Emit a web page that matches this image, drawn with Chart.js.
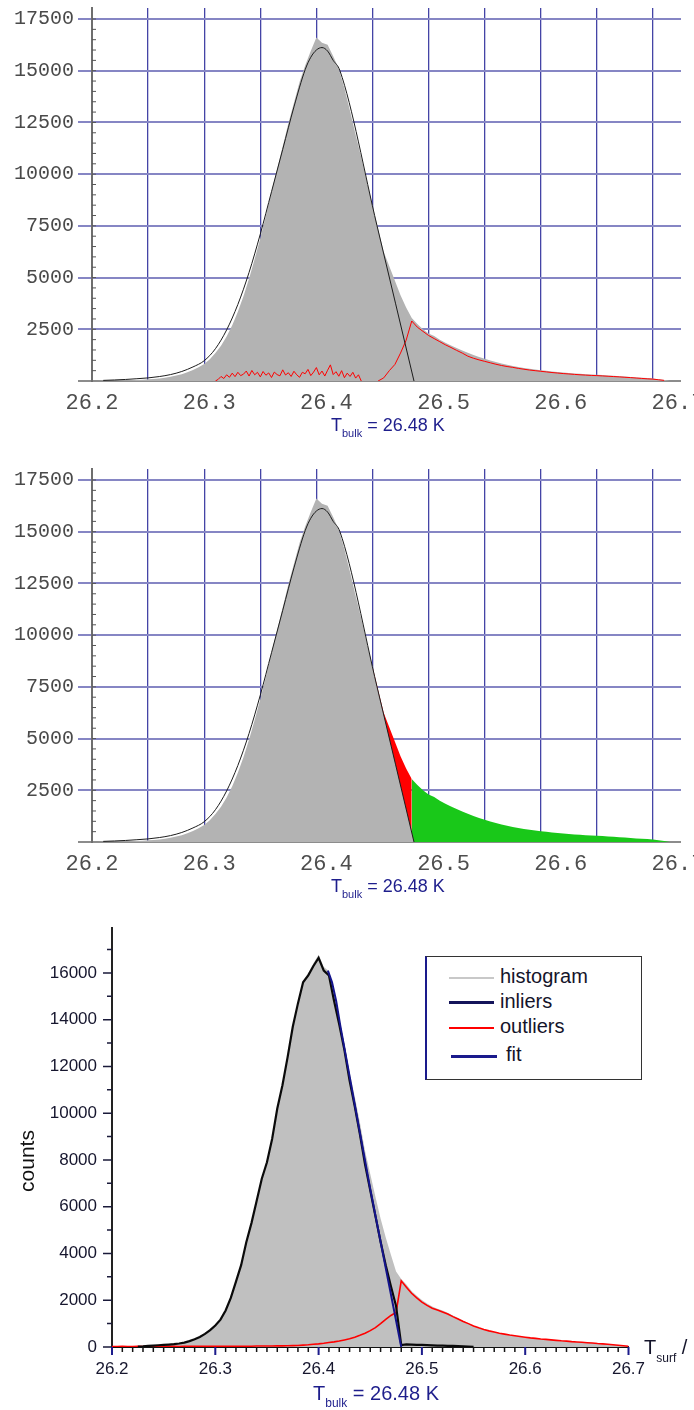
<!DOCTYPE html>
<html>
<head>
<meta charset="utf-8">
<script src="https://cdn.jsdelivr.net/npm/chart.js@4.4.1/dist/chart.umd.min.js"></script>
<style>
  html, body { margin: 0; padding: 0; background: #ffffff; }
  body { width: 694px; height: 1410px; position: relative; overflow: hidden;
         font-family: 'Liberation Sans', Arial, sans-serif; }
  canvas { position: absolute; left: 0; }
  .lbl { position: absolute; white-space: nowrap; }
  .tb { color: #1e1e8c; }
  .sub { position: relative; }
  .legend { position: absolute; left: 425px; top: 956px; width: 217px; height: 124px;
            box-sizing: border-box; border: 1px solid #333333; border-left: 2px solid #1a1a8c; background: #ffffff; }
  .key { position: absolute; height: 0; }
  .ltxt { position: absolute; font-size: 20px; line-height: 20px; color: #14142a; white-space: nowrap; }
</style>
</head>
<body>
<canvas id="histTop" width="694" height="450" style="top:0px"></canvas>
<canvas id="histMid" width="694" height="450" style="top:461px"></canvas>
<canvas id="histLow" width="694" height="510" style="top:900px"></canvas>

<div class="lbl tb" style="left:331px;top:416px;font-size:18px;line-height:18px">T<span class="sub" style="font-size:11px;top:6px">bulk</span> = 26.48 K</div>
<div class="lbl tb" style="left:331px;top:877px;font-size:18px;line-height:18px">T<span class="sub" style="font-size:11px;top:6px">bulk</span> = 26.48 K</div>
<div class="lbl tb" style="left:313px;top:1383px;font-size:20px;line-height:20px">T<span class="sub" style="font-size:12px;top:7px">bulk</span> = 26.48 K</div>

<div class="lbl" style="left:644px;top:1337px;font-size:20px;line-height:20px;color:#14142a">T<span class="sub" style="font-size:12px;top:8px">surf</span> / K</div>
<div class="lbl" style="left:-10px;top:1150px;width:74px;text-align:center;font-size:21px;line-height:22px;color:#111111;transform:rotate(-90deg);transform-origin:37px 11px">counts</div>

<div class="legend"></div>
<div class="key" style="left:449px;top:977px;width:45px;border-top:2px solid #c8c8c8"></div>
<div class="key" style="left:449px;top:1001px;width:45px;border-top:3px solid #14145a"></div>
<div class="key" style="left:449px;top:1027px;width:45px;border-top:2px solid #ff0000"></div>
<div class="key" style="left:451px;top:1055px;width:46px;border-top:3px solid #1a1a8c"></div>
<div class="ltxt" style="left:500px;top:966px">histogram</div>
<div class="ltxt" style="left:500px;top:991px">inliers</div>
<div class="ltxt" style="left:500px;top:1016px">outliers</div>
<div class="ltxt" style="left:506px;top:1044px">fit</div>

<script>
// Histogram bins: centres every 5 mK starting at 26.200 K
const binStart = 26.2;
const binWidth = 0.005;

// Upper panels: total counts per bin (26.200 ... 26.720 K)
const upperHist = [
  0, 5, 8, 12, 16, 22, 30, 40, 50, 65,
  80, 100, 125, 160, 200, 260, 330, 420, 530, 660,
  820, 1050, 1350, 1700, 2150, 2700, 3350, 4100, 4950, 5900,
  6900, 8000, 9150, 10250, 11350, 12450, 13450, 14450, 15250, 15950,
  16600, 16350, 16250, 15700, 15100, 14150, 13050, 11900, 10800, 9650,
  8500, 7350, 6250, 5550, 4850, 4150, 3550, 3050, 2750, 2500,
  2300, 2180, 2000, 1850, 1720, 1600, 1480, 1370, 1260, 1160,
  1080, 990, 920, 850, 790, 730, 680, 630, 590, 550,
  520, 490, 460, 430, 405, 385, 365, 345, 330, 310,
  300, 285, 270, 255, 235, 215, 195, 175, 160, 140,
  120, 90, 50, 0, 0
];

// Upper panel: outliers on the warm side, per bin (null where nothing is flagged)
const upperOutliers = [
  null, null, null, null, null, null, null, null, null, null,
  null, null, null, null, null, null, null, null, null, null,
  null, null, null, null, null, null, null, null, null, null,
  null, null, null, null, null, null, null, null, null, null,
  null, null, null, null, null, null, null, null, null, null,
  null, 0, 150, 500, 800, 1350, 1970, 2900, 2600, 2400,
  2200, 2050, 1900, 1750, 1620, 1480, 1350, 1200, 1100, 1020,
  950, 880, 810, 750, 700, 660, 610, 570, 530, 500,
  470, 440, 410, 385, 360, 340, 320, 300, 285, 270,
  260, 245, 230, 215, 200, 180, 165, 145, 125, 105,
  90, 60, 30, null, null
];

// Upper panel: scattered outliers under the peak, finer bins of 2.5 mK from 26.310 K
const coldStart = 26.31;
const coldStep = 0.0025;
const upperOutliersCold = [
  0, 80, 220, 120, 300, 180, 380, 210, 420, 260,
  330, 480, 240, 510, 300, 420, 200, 460, 280, 390,
  170, 430, 310, 250, 540, 290, 400, 220, 470, 300,
  180, 420, 350, 560, 260, 430, 650, 300, 480, 240,
  520, 780, 310, 450, 230, 500, 160, 380, 220, 420,
  140, 300, 0
];

// Upper panels: fitted bulk peak (temperature in K, counts)
const upperFitTemps = [
  26.21, 26.22, 26.23, 26.24, 26.25, 26.26, 26.27, 26.28, 26.29, 26.30,
  26.31, 26.32, 26.33, 26.34, 26.35, 26.36, 26.37, 26.38, 26.39, 26.395,
  26.40, 26.405, 26.41, 26.415, 26.421, 26.454, 26.487
];
const upperFitCounts = [
  30, 50, 75, 110, 150, 215, 310, 460, 680, 980,
  1560, 2470, 3700, 5250, 7100, 9150, 11200, 13250, 15050, 15650,
  16000, 16120, 15950, 15500, 15000, 7520, 0
];
// Where the histogram leaves the fitted peak on its warm side
const fitSplitTemp = 26.45;
const bulkTemp = 26.485;

// Lower panel: inlier and outlier counts per bin (26.200 ... 26.700 K)
const lowerInliers = [
  null, null, null, null, null, 20, 30, 45, 60, 75,
  90, 105, 120, 150, 190, 250, 330, 430, 560, 720,
  920, 1170, 1560, 2100, 2800, 3500, 4480, 5300, 6250, 7200,
  7900, 8900, 10200, 11200, 12400, 13700, 14700, 15600, 15900, 16300,
  16650, 16100, 15900, 14800, 13800, 12700, 11400, 10300, 9100, 7800,
  6700, 5600, 4500, 3500, 2600, 1750, 80, 110, 100, 90,
  90, 80, 70, 60, 60, 50, 50, 40, 30, 20,
  10, null, null, null, null, null, null, null, null, null,
  null, null, null, null, null, null, null, null, null, null,
  null, null, null, null, null, null, null, null, null, null,
  null
];
const lowerOutliers = [
  20, 20, 25, 20, 20, 25, 20, 25, 20, 25,
  20, 25, 25, 20, 25, 30, 25, 25, 30, 30,
  25, 30, 30, 35, 30, 35, 35, 35, 40, 40,
  45, 45, 50, 50, 55, 60, 65, 80, 95, 115,
  135, 160, 190, 220, 255, 300, 350, 420, 500, 590,
  700, 830, 1000, 1180, 1350, 1480, 2830, 2560, 2300, 2100,
  1920, 1780, 1660, 1580, 1500, 1410, 1300, 1200, 1090, 1000,
  900, 820, 750, 690, 640, 590, 550, 510, 480, 450,
  420, 390, 370, 345, 325, 305, 285, 265, 250, 230,
  215, 200, 185, 170, 150, 135, 115, 95, 75, 55,
  35
];
// Lower panel: fitted warm flank
const lowerFitTemps = [26.409, 26.413, 26.417, 26.421, 26.45, 26.48];
const lowerFitCounts = [16100, 15600, 14800, 13750, 6760, 0];

// Axis ticks
const upperYTicks = [0, 2500, 5000, 7500, 10000, 12500, 15000, 17500];
const upperXLabels = [26.2, 26.3, 26.4, 26.5, 26.6, 26.7];
const upperXGrid = [26.25, 26.3, 26.35, 26.4, 26.45, 26.5, 26.55, 26.6, 26.65, 26.7];
const lowerYTicks = [0, 2000, 4000, 6000, 8000, 10000, 12000, 14000, 16000];
const lowerXTicks = [26.2, 26.3, 26.4, 26.5, 26.6, 26.7];

const MONO = "'Liberation Mono', 'Courier New', monospace";
const SANS = "'Liberation Sans', Arial, sans-serif";

const round4 = v => Math.round(v * 10000) / 10000;
const binT = i => round4(binStart + i * binWidth);
const toPoints = arr => arr.map((c, i) => ({ x: binT(i), y: c }));
const toFinePoints = arr => arr.map((c, i) => ({ x: round4(coldStart + i * coldStep), y: c }));
const pairPoints = (ts, cs) => ts.map((t, i) => ({ x: t, y: cs[i] }));

function stepValues(from, to, step, skip) {
  const out = [];
  for (let v = from; v <= to + 1e-9; v += step) {
    const r = Math.round(v * 1000) / 1000;
    if (!skip || !skip.some(s => Math.abs(s - r) < 1e-6)) out.push(r);
  }
  return out;
}

// Short tick marks drawn along an axis through the scale's own pixel mapping
const tickMarks = {
  id: 'tickMarks',
  afterDraw(chart, args, opts) {
    const ctx = chart.ctx, area = chart.chartArea;
    (opts.marks || []).forEach(m => {
      const scale = chart.scales[m.axis];
      ctx.save();
      ctx.strokeStyle = m.color;
      ctx.lineWidth = m.width;
      ctx.beginPath();
      m.values.forEach(v => {
        const p = scale.getPixelForValue(v);
        if (scale.isHorizontal()) {
          ctx.moveTo(p, area.bottom);
          ctx.lineTo(p, area.bottom + m.len);
        } else {
          ctx.moveTo(area.left, p);
          ctx.lineTo(area.left + m.len, p);
        }
      });
      ctx.stroke();
      ctx.restore();
    });
  }
};

Chart.defaults.font.family = SANS;

function upperChart(id, datasets) {
  return new Chart(document.getElementById(id), {
    type: 'line',
    data: { datasets },
    options: {
      responsive: false,
      animation: false,
      devicePixelRatio: 1,
      layout: { padding: { top: 8, right: 13, left: 0, bottom: 0 } },
      elements: { point: { radius: 0 }, line: { tension: 0 } },
      plugins: {
        legend: { display: false },
        tooltip: { enabled: false },
        tickMarks: { marks: [
          { axis: 'y', values: stepValues(500, 17500, 500), len: 4, color: '#555555', width: 1 }
        ] }
      },
      scales: {
        x: {
          type: 'linear', position: 'bottom', min: 26.2, max: 26.725,
          afterBuildTicks: s => { s.ticks = upperXGrid.map(v => ({ value: v })); },
          afterFit: s => { s.height = 0; s.paddingLeft = 0; s.paddingRight = 0; },
          grid: { color: '#4444a6', lineWidth: 1.3, drawTicks: false },
          border: { display: false },
          ticks: { display: false }
        },
        xl: {
          type: 'linear', position: 'bottom', min: 26.2, max: 26.7026,
          afterBuildTicks: s => { s.ticks = upperXLabels.map(v => ({ value: v })); },
          afterFit: s => { s.height = 69; s.paddingLeft = 0; s.paddingRight = 0; },
          grid: { display: false, drawTicks: false },
          border: { display: false },
          ticks: { autoSkip: false, maxRotation: 0, padding: 9, color: '#4e4e4e',
                   font: { family: MONO, size: 22 }, callback: v => v.toFixed(1) }
        },
        y: {
          type: 'linear', min: 0, max: 18032,
          afterBuildTicks: s => { s.ticks = upperYTicks.map(v => ({ value: v })); },
          afterFit: s => { s.width = 92; s.paddingTop = 0; s.paddingBottom = 0; },
          grid: {
            color: c => (c.tick && c.tick.value === 0) ? '#8c8c8c' : '#8686c4',
            lineWidth: 2, tickLength: 14, drawTicks: true
          },
          border: { display: true, color: '#6e6e6e', width: 2 },
          ticks: { autoSkip: false, padding: 4, color: '#4a4a4a',
                   font: { family: MONO, size: 20 }, callback: v => (v === 0 ? '' : String(v)) }
        }
      }
    },
    plugins: [tickMarks]
  });
}

const fitStyle = { borderColor: '#1c1c1c', borderWidth: 1, fill: false,
                   cubicInterpolationMode: 'monotone', order: 1 };

// Top: histogram, outliers and the fitted peak
upperChart('histTop', [
  { data: toPoints(upperHist), borderWidth: 0, borderColor: 'rgba(0,0,0,0)',
    backgroundColor: '#b3b3b3', fill: 'origin', order: 4 },
  { data: toFinePoints(upperOutliersCold), borderColor: '#ff0000', borderWidth: 1, fill: false, order: 3 },
  { data: toPoints(upperOutliers), borderColor: '#ff0000', borderWidth: 1, fill: false, order: 2 },
  Object.assign({ data: pairPoints(upperFitTemps, upperFitCounts) }, fitStyle)
]);

// Middle: counts under the fit (grey), excess on the flank (red), beyond T_bulk (green)
const histPts = toPoints(upperHist);
const fitPts = pairPoints(upperFitTemps, upperFitCounts);
const underFit = histPts.filter(p => p.x <= fitSplitTemp + 1e-9)
  .concat(fitPts.filter(p => p.x > fitSplitTemp + 1e-9));
const flankExcess = histPts.filter(p => p.x >= fitSplitTemp - 1e-9 && p.x <= bulkTemp + 1e-9);
const beyondBulk = histPts.filter(p => p.x >= bulkTemp - 1e-9);

upperChart('histMid', [
  { data: flankExcess, borderWidth: 0, borderColor: 'rgba(0,0,0,0)',
    backgroundColor: '#ff0000', fill: 'origin', order: 5 },
  { data: beyondBulk, borderWidth: 0, borderColor: 'rgba(0,0,0,0)',
    backgroundColor: '#19c819', fill: 'origin', order: 4 },
  { data: underFit, borderWidth: 0, borderColor: 'rgba(0,0,0,0)',
    backgroundColor: '#b3b3b3', fill: 'origin', order: 3 },
  Object.assign({ data: pairPoints(upperFitTemps, upperFitCounts) }, fitStyle)
]);

// Bottom: histogram split into inliers and outliers, with the fitted flank
const lowerHist = lowerOutliers.map((c, i) => c + (lowerInliers[i] || 0));

new Chart(document.getElementById('histLow'), {
  type: 'line',
  data: {
    datasets: [
      { label: 'histogram', data: toPoints(lowerHist), borderWidth: 0, borderColor: 'rgba(0,0,0,0)',
        backgroundColor: '#c0c0c0', fill: 'origin', order: 4 },
      { label: 'outliers', data: toPoints(lowerOutliers), borderColor: '#ff0000', borderWidth: 1.6,
        fill: false, order: 3 },
      { label: 'inliers', data: toPoints(lowerInliers), borderColor: '#0a0a0a', borderWidth: 2.2,
        fill: false, order: 2 },
      { label: 'fit', data: pairPoints(lowerFitTemps, lowerFitCounts), borderColor: '#14148c',
        borderWidth: 2, fill: false, order: 1 }
    ]
  },
  options: {
    responsive: false,
    animation: false,
    devicePixelRatio: 1,
    layout: { padding: { top: 28, right: 65.5, left: 0, bottom: 0 } },
    elements: { point: { radius: 0 }, line: { tension: 0 } },
    plugins: {
      legend: { display: false },
      tooltip: { enabled: false },
      tickMarks: { marks: [
        { axis: 'y', values: stepValues(1000, 17000, 2000), len: -5, color: '#1a1a3a', width: 1.5 },
        { axis: 'y', values: lowerYTicks, len: -9, color: '#1a1a3a', width: 1.5 },
        { axis: 'x', values: stepValues(26.21, 26.69, 0.01, lowerXTicks), len: 5, color: '#151515', width: 1.5 },
        { axis: 'x', values: lowerXTicks, len: 8, color: '#1c1c8c', width: 2 }
      ] }
    },
    scales: {
      x: {
        type: 'linear', position: 'bottom', min: 26.2, max: 26.7,
        afterBuildTicks: s => { s.ticks = lowerXTicks.map(v => ({ value: v })); },
        afterFit: s => { s.height = 63; s.paddingLeft = 0; s.paddingRight = 0; },
        grid: { display: false, drawTicks: false },
        border: { display: true, color: '#111111', width: 2 },
        ticks: { autoSkip: false, maxRotation: 0, padding: 12, color: '#16162e',
                 font: { family: SANS, size: 17 }, callback: v => v.toFixed(1) }
      },
      y: {
        type: 'linear', min: 0, max: 17925,
        afterBuildTicks: s => { s.ticks = lowerYTicks.map(v => ({ value: v })); },
        afterFit: s => { s.width = 112; s.paddingTop = 0; s.paddingBottom = 0; },
        grid: { display: false, drawTicks: false },
        border: { display: true, color: '#222222', width: 2 },
        ticks: { autoSkip: false, padding: 15, color: '#16162e',
                 font: { family: SANS, size: 17 }, callback: v => String(v) }
      }
    }
  },
  plugins: [tickMarks]
});
</script>
</body>
</html>
